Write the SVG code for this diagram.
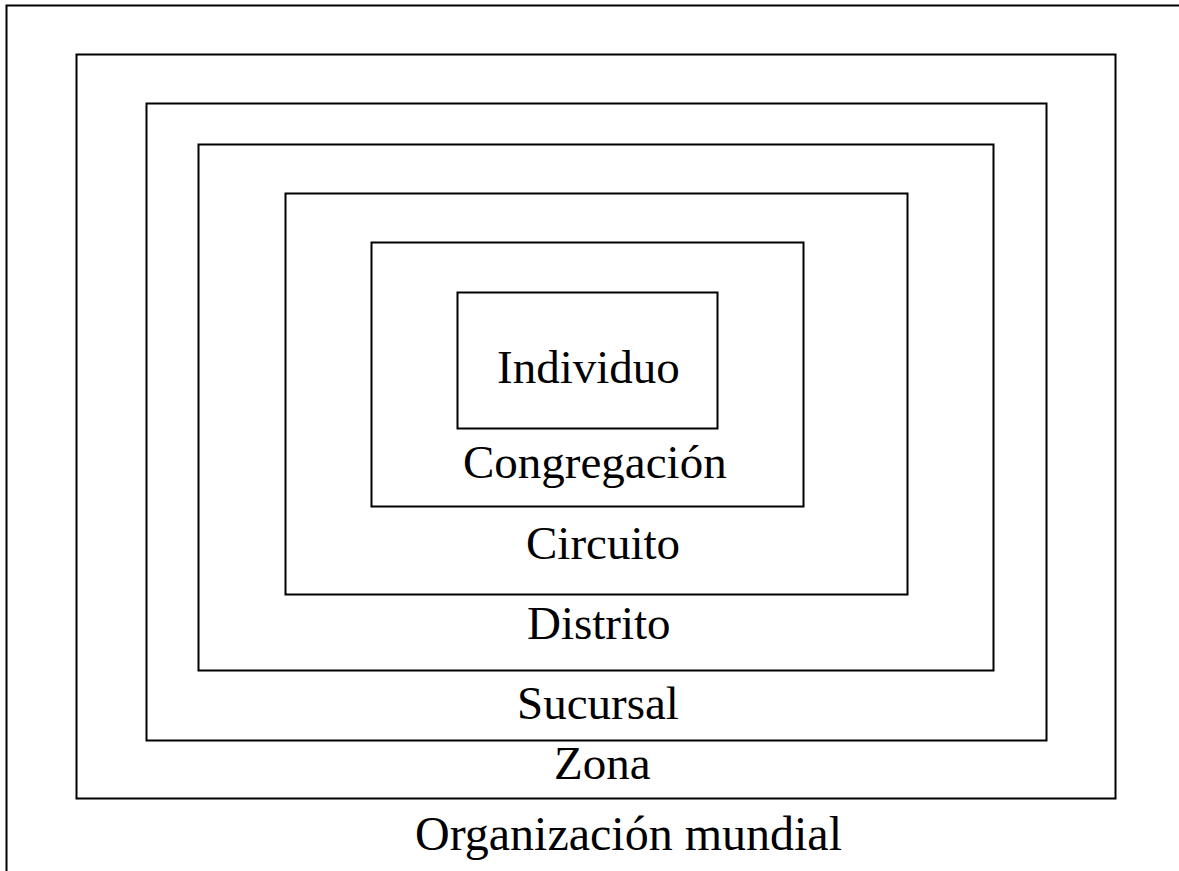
<svg xmlns="http://www.w3.org/2000/svg" width="1179" height="871" viewBox="0 0 1179 871">
<style>
.box{fill:none;stroke:#000;stroke-width:2}
.lbl{font-family:"Liberation Serif","Times New Roman",serif;font-size:47px;fill:#000}
</style>
<rect width="1179" height="871" fill="#fff"/>
<g id="frame">
<path class="box" d="M6.5,871 V5.5 H1179"/>
</g>
<g id="organizacion">
<text class="lbl" x="415" y="850" style="font-size:48px">Organización mundial</text>
</g>
<g id="zona">
<rect class="box" x="76.5" y="54.5" width="1039" height="744"/>
<text class="lbl" x="554" y="779">Zona</text>
</g>
<g id="sucursal">
<rect class="box" x="146.5" y="103.5" width="900" height="637"/>
<text class="lbl" x="517" y="719">Sucursal</text>
</g>
<g id="distrito">
<rect class="box" x="198.5" y="144.5" width="795" height="526"/>
<text class="lbl" x="527" y="639">Distrito</text>
</g>
<g id="circuito">
<rect class="box" x="285.5" y="193.5" width="622" height="401"/>
<text class="lbl" x="526" y="559">Circuito</text>
</g>
<g id="congregacion">
<rect class="box" x="371.5" y="242.5" width="432" height="264"/>
<text class="lbl" x="463" y="478">Congregación</text>
</g>
<g id="individuo">
<rect class="box" x="457.5" y="292.5" width="260" height="136"/>
<text class="lbl" x="497" y="383">Individuo</text>
</g>
<g id="connectors"/>
</svg>
